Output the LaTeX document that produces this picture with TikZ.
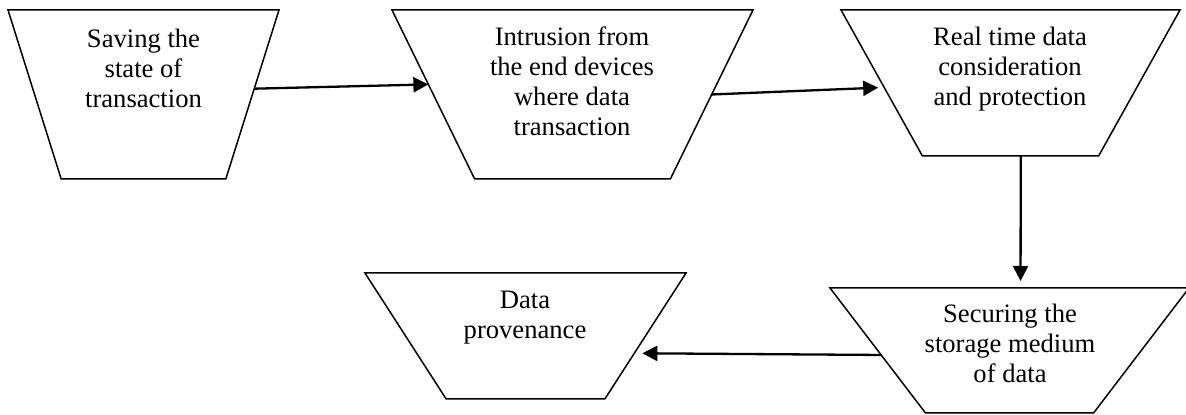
\documentclass[tikz,border=0pt]{standalone}
\usepackage{fontspec}
\setmainfont{Liberation Serif}
\usetikzlibrary{shapes.geometric,arrows.meta}
\begin{document}
\begin{tikzpicture}[x=0.5pt,y=-0.5pt,
  box/.style={trapezium, draw, line width=0.75pt, trapezium stretches=true,
    shape border rotate=180, inner sep=1pt, outer sep=0pt},
  lbl/.style={anchor=north, align=center, inner sep=0pt,
    font=\fontsize{13.3}{15}\selectfont},
  arr/.style={-{Triangle[length=7.5pt,width=7.5pt]}, line width=1.15pt}]
\useasboundingbox (0,0) rectangle (1186,415);
% shapes
\node[box, minimum width=135.5pt, minimum height=84.5pt,
  trapezium left angle=72.1, trapezium right angle=72.1] (s1) at (143.5,94.5) {};
\node[box, minimum width=180.5pt, minimum height=84.5pt,
  trapezium left angle=67.1, trapezium right angle=67.1] (s2) at (572.5,94.5) {};
\node[box, minimum width=169.5pt, minimum height=73pt,
  trapezium left angle=65.2, trapezium right angle=65.2] (s3) at (1010.5,83) {};
\node[box, minimum width=179.5pt, minimum height=62.5pt,
  trapezium left angle=60.4, trapezium right angle=60.4] (s4) at (1009.5,350.5) {};
\node[box, minimum width=160.5pt, minimum height=63pt,
  trapezium left angle=62.9, trapezium right angle=62.9] (s5) at (525.5,336) {};
% labels
\node[lbl] (t1) at (143.5,26) {\strut Saving the\\state of\\transaction};
\node[lbl] (t2) at (572,24) {\strut Intrusion from\\the end devices\\where data\\transaction};
\node[lbl] (t3) at (1010,24) {\strut Real time data\\consideration\\and protection};
\node[lbl] (t4) at (1010,301) {\strut Securing the\\storage medium\\of data};
\node[lbl] (t5) at (525,287) {\strut Data\\provenance};
% connectors
\draw[arr] (s1.3) -- (s2.176.4);
\draw[arr, shorten >=3pt] (s2.0.6) -- (s3.182.1);
\draw[arr, shorten >=3.5pt] (s3.-82.6) -- (s4.80.5);
\draw[arr, shorten >=4pt] (s4.182.2) -- (s5.-9.6);
\end{tikzpicture}
\end{document}
